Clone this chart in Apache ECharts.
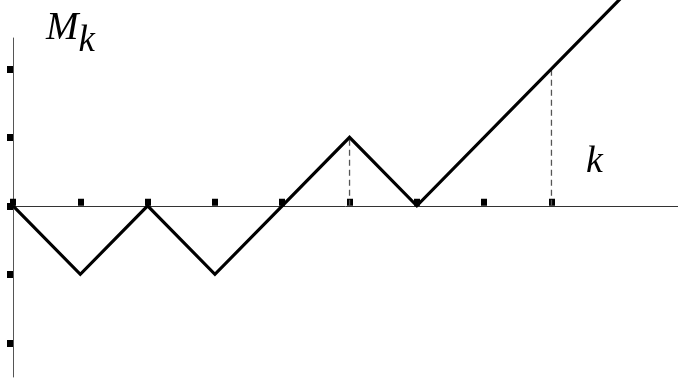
<!DOCTYPE html>
<html>
<head>
<meta charset="utf-8">
<script src="https://cdn.jsdelivr.net/npm/echarts@6/dist/echarts.min.js"></script>
<style>
    html, body { margin: 0; padding: 0; background: #fff; }
    #chart { width: 678px; height: 379px; }
</style>
</head>
<body>
<div id="chart"></div>
<script>
// walk M_k against k
const walkPoints = [[0, 0], [1, -1], [2, 0], [3, -1], [4, 0], [5, 1], [6, 0], [9.1, 3.1]];
const dropA = [[5, 0], [5, 1]];
const dropB = [[8, 0], [8, 2]];
const xTicks = [0, 1, 2, 3, 4, 5, 6, 7, 8];
const yTicks = [-2, -1, 0, 1, 2];

const chart = echarts.init(document.getElementById('chart'), null, { renderer: 'canvas' });

const dashed = (data) => ({
    type: 'line',
    data: data,
    symbol: 'none',
    silent: true,
    lineStyle: { color: '#555', width: 1.3, type: [6, 4] }
});

chart.setOption({
    animation: false,
    grid: { left: 13, right: 0, top: 38, bottom: 2 },
    xAxis: {
        type: 'value',
        min: 0,
        max: 9.88,
        axisLine: { onZero: true, lineStyle: { color: '#333', width: 1 } },
        axisTick: { inside: true, length: 7, customValues: xTicks, lineStyle: { color: '#000', width: 6 } },
        axisLabel: { show: false },
        splitLine: { show: false }
    },
    yAxis: {
        type: 'value',
        min: -2.5,
        max: 2.45,
        axisLine: { show: true, lineStyle: { color: '#555', width: 1 } },
        axisTick: { show: true, length: 6, customValues: yTicks, lineStyle: { color: '#000', width: 7 } },
        axisLabel: { show: false },
        splitLine: { show: false }
    },
    series: [
        dashed(dropA),
        dashed(dropB),
        {
            type: 'line',
            data: walkPoints,
            symbol: 'none',
            clip: false,
            lineStyle: { color: '#000', width: 3.2, cap: 'butt', join: 'miter' }
        }
    ],
    graphic: [
        {
            type: 'text',
            left: 46,
            top: 9,
            style: {
                text: '{m|M}{k|k}',
                rich: {
                    m: { fontFamily: 'Liberation Serif', fontStyle: 'italic', fontSize: 39, fill: '#000' },
                    k: { fontFamily: 'Liberation Serif', fontStyle: 'italic', fontSize: 37, fill: '#000', padding: [26, 0, 0, 0] }
                }
            }
        },
        {
            type: 'text',
            left: 586,
            top: 143,
            style: { text: 'k', fontFamily: 'Liberation Serif', fontStyle: 'italic', fontSize: 38, fill: '#000' }
        }
    ]
});
</script>
</body>
</html>
